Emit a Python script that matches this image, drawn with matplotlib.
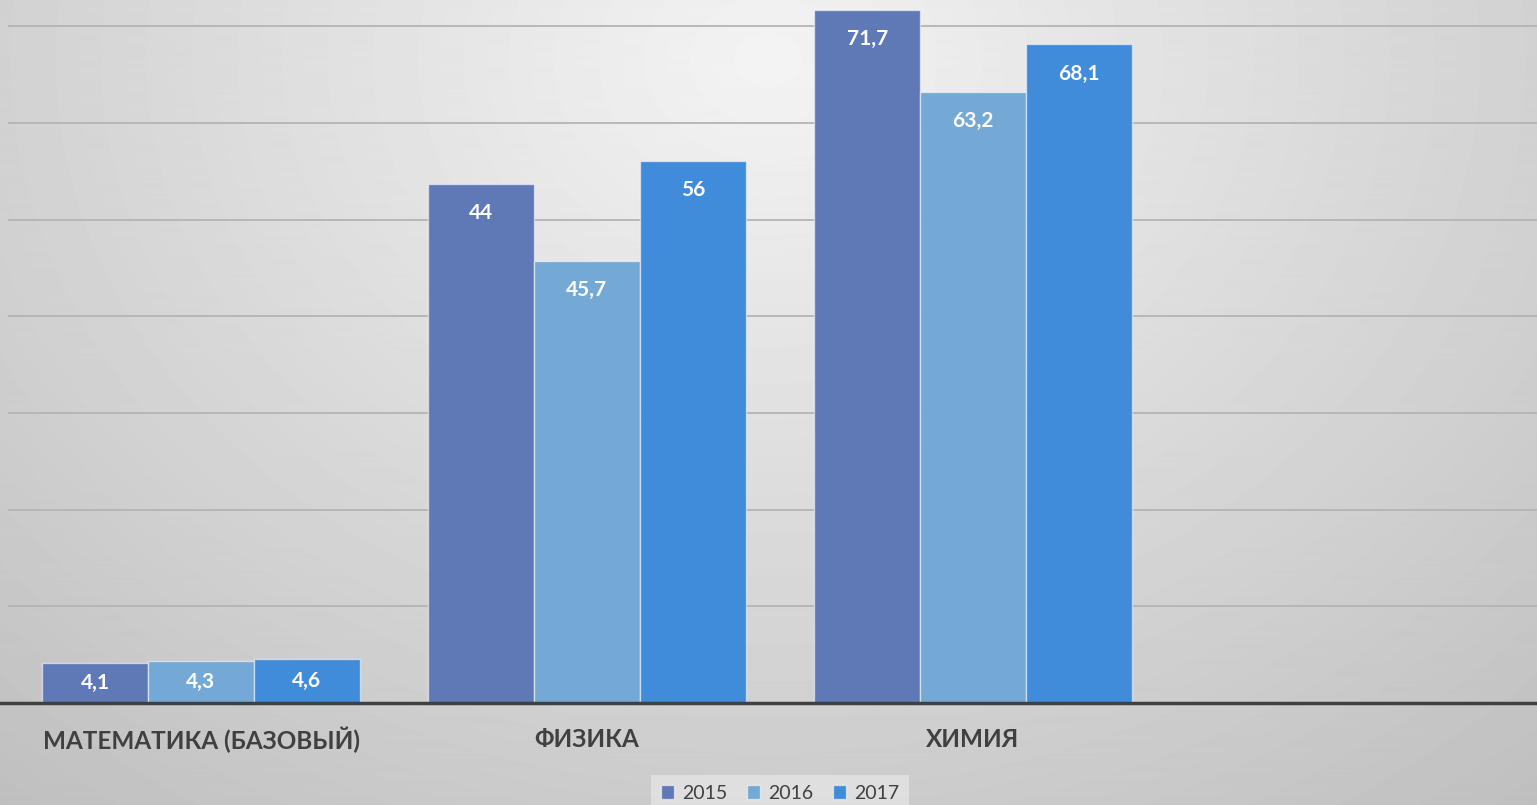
import numpy as np
import matplotlib
matplotlib.use('Agg')
from matplotlib import pyplot as plt

categories = ['МАТЕМАТИКА (БАЗОВЫЙ)', 'ФИЗИКА', 'ХИМИЯ']
years = ['2015', '2016', '2017']
# bar heights as drawn in the picture
h2015 = [4.1, 53.7, 71.7]
h2016 = [4.3, 45.7, 63.2]
h2017 = [4.6, 56.0, 68.1]
# data labels as printed on the bars
lab2015 = ['4,1', '44', '71,7']
lab2016 = ['4,3', '45,7', '63,2']
lab2017 = ['4,6', '56', '68,1']

colors = ['#5f79b7', '#74a9d6', '#418bdb']
plt.rcParams['font.family'] = ['Lato', 'DejaVu Sans']

fig = plt.figure(figsize=(15.37, 8.05), dpi=100)

# radial grey background
bg = fig.add_axes([0, 0, 1, 1], zorder=-10)
yy, xx = np.mgrid[0:805, 0:1537]
r = np.sqrt(((xx - 768) / 1100.0) ** 2 + ((yy - 60) / 900.0) ** 2)
img = np.clip(0.955 - 0.19 * r, 0, 1)
bg.imshow(img, cmap='gray', vmin=0, vmax=1, aspect='auto', extent=(0, 1, 0, 1))
bg.axis('off')

ax = fig.add_axes([8 / 1537, 102 / 805, 1529 / 1537, 703 / 805])
ax.patch.set_alpha(0)
x = np.arange(len(categories))
w = 0.274
series = [(h2015, lab2015), (h2016, lab2016), (h2017, lab2017)]
for i, (hs, labs) in enumerate(series):
    pos = x + (i - 1) * w
    ax.bar(pos, hs, w, color=colors[i], edgecolor=(1, 1, 1, 0.55), linewidth=1, label=years[i], zorder=3)
    for p, hv, t in zip(pos, hs, labs):
        ty = hv / 2 if hv < 10 else hv - 3.0
        ax.text(p, ty, t, ha='center', va='center', color='white', fontsize=15, fontweight='bold', zorder=4)

ax.set_xlim(-0.5, 3.461)
ax.set_ylim(0, 72.7)
ax.set_yticks(np.arange(10, 71, 10))
ax.yaxis.grid(True, color='#b4b4b4', linewidth=1.3, zorder=0)
ax.tick_params(left=False, labelleft=False, bottom=False, labelbottom=False)
for s in ['top', 'right', 'left', 'bottom']:
    ax.spines[s].set_visible(False)
# baseline across the whole width
fig.add_artist(plt.Line2D([0, 1], [102 / 805, 102 / 805], color='#404040', linewidth=2.5, zorder=5))

for xi, c in zip(x, categories):
    ax.text(xi, -3.8, c, ha='center', va='center', fontsize=17.5, fontweight='bold', color='#404040')

leg = fig.legend(loc='center', bbox_to_anchor=(780 / 1537, 12 / 805), ncol=3, frameon=True,
                 fontsize=14, handlelength=0.7, handleheight=0.7, handletextpad=0.4, columnspacing=1.0,
                 borderpad=0.35)
leg.get_frame().set_facecolor('#e4e4e4')
leg.get_frame().set_edgecolor('none')
leg.get_frame().set_boxstyle('square', pad=0.15)
for t in leg.get_texts():
    t.set_color('#404040')

fig.savefig('out.png', dpi=100)
